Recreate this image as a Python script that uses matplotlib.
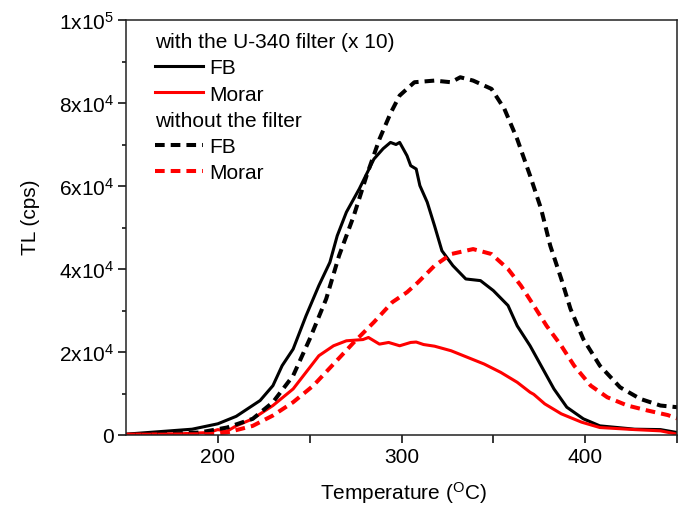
import matplotlib
matplotlib.use("Agg")
import matplotlib.pyplot as plt
from matplotlib.lines import Line2D

plt.rcParams['font.family'] = ['Liberation Sans', 'DejaVu Sans']
plt.rcParams['mathtext.fontset'] = 'custom'
plt.rcParams['mathtext.rm'] = 'Liberation Sans'
plt.rcParams['mathtext.it'] = 'Liberation Sans'
plt.rcParams['mathtext.default'] = 'regular'

# ---- data (T in degC, TL in cps) ----
fb_filter_T = [150, 186, 200, 210, 223, 230, 235, 241, 248, 255, 261, 265, 270, 277, 285, 290, 294, 297, 299,
               303, 305, 308, 310, 314, 318, 322, 328, 335, 343, 350, 358, 363, 370, 376, 383, 390, 399,
               408, 427, 441, 450]
fb_filter_V = [200, 1400, 2700, 4500, 8300, 11900, 16700, 20700, 28700, 36000, 41600, 48000, 53700, 59300,
               66500, 69000, 70500, 70000, 70500, 67300, 64900, 64100, 60100, 56100, 50400, 44400, 40800,
               37600, 37200, 34800, 31200, 26300, 21500, 16700, 11100, 6700, 3900, 2200, 1400, 1300, 600]

morar_filter_T = [150, 180, 195, 200, 205, 210, 219, 230, 241, 248, 255, 263, 270, 279, 282, 288, 293, 299,
                  305, 308, 312, 318, 327, 336, 345, 354, 363, 370, 372, 378, 387, 398, 408, 427, 441, 450]
morar_filter_V = [200, 300, 600, 1300, 900, 2200, 3900, 7100, 11100, 15100, 19100, 21500, 22700, 23000,
                  23500, 21900, 22300, 21500, 22300, 22400, 21800, 21400, 20300, 18700, 17100, 15100, 12700,
                  10300, 9800, 7500, 5100, 3100, 1800, 1300, 1000, 200]

fb_nofilter_T = [150, 190, 205, 219, 230, 241, 250, 259, 266, 274, 281, 288, 294, 299, 307, 318, 327, 332,
                 339, 349, 356, 363, 370, 376, 381, 387, 392, 399, 408, 419, 430, 441, 450]
fb_nofilter_V = [0, 600, 1800, 3900, 7900, 14300, 23100, 32800, 43200, 52800, 62500, 71300, 77500, 81800,
                 85000, 85400, 85000, 86200, 85400, 83400, 78600, 71300, 62500, 54500, 45600, 37600, 30400,
                 23100, 16700, 11500, 8700, 7100, 6700]

morar_nofilter_T = [150, 195, 205, 219, 230, 241, 252, 263, 274, 285, 295, 303, 309, 318, 327, 339, 349, 358,
                    365, 372, 379, 387, 394, 403, 412, 423, 434, 445, 450]
morar_nofilter_V = [0, 200, 600, 2200, 4700, 7900, 11900, 17100, 22300, 27200, 32000, 34400, 36800, 40800,
                    43600, 44800, 43600, 40000, 36000, 31200, 26300, 21500, 16700, 11900, 9100, 7100, 5900,
                    4800, 4000]

x_ticks = [200, 300, 400]
y_ticks = [0, 20000, 40000, 60000, 80000, 100000]
y_ticklabels = ['0', '2x10$^4$', '4x10$^4$', '6x10$^4$', '8x10$^4$', '1x10$^5$']

fs = 15
fig = plt.figure(figsize=(6.84, 5.10), dpi=100)
ax = fig.add_axes([126/684, (510-436)/510, (677-126)/684, (436-21)/510])

dash = (2.4, 1.5)
l1, = ax.plot(fb_filter_T, fb_filter_V, color='black', lw=2.2)
l2, = ax.plot(morar_filter_T, morar_filter_V, color='#ff0000', lw=2.2)
l3, = ax.plot(fb_nofilter_T, fb_nofilter_V, color='black', lw=2.9, dashes=dash, dash_capstyle='butt')
l4, = ax.plot(morar_nofilter_T, morar_nofilter_V, color='#ff0000', lw=2.9, dashes=dash, dash_capstyle='butt')

ax.set_xlim(150, 450)
ax.set_ylim(0, 100000)
ax.set_xticks(x_ticks)
ax.set_xticks([250, 350, 450], minor=True)
ax.set_yticks(y_ticks)
ax.set_yticklabels(y_ticklabels)
ax.set_yticks([10000, 30000, 50000, 70000, 90000], minor=True)
ax.tick_params(which='both', direction='out', labelsize=fs, width=1.1, top=False, right=False, pad=3)
ax.tick_params(which='major', length=5.5)
ax.tick_params(which='minor', length=3)
ax.tick_params(axis='x', which='minor', length=5.5)
for s in ax.spines.values():
    s.set_linewidth(1.1)
    s.set_color('#222222')

ax.set_xlabel(r'Temperature ($^{\mathrm{O}}$C)', fontsize=fs)
ax.xaxis.set_label_coords((404-126)/551, (436-493)/415)
ax.xaxis.label.set_va('center')
ax.set_ylabel('TL (cps)', fontsize=fs)
ax.yaxis.set_label_coords((31-126)/551, (436-217)/415)
ax.yaxis.label.set_va('center')

blank = Line2D([], [], alpha=0)
handles = [blank, l1, l2, blank, l3, l4]
labels = ['with the U-340 filter (x 10)', 'FB', 'Morar', 'without the filter', 'FB', 'Morar']
leg = ax.legend(handles, labels, loc='upper left', bbox_to_anchor=((155-126)/551, (436-33)/415), frameon=False,
                fontsize=fs, handlelength=2.3, handletextpad=0.3, labelspacing=0.35, borderaxespad=0,
                borderpad=0)
rows = leg._legend_handle_box.get_children()[0].get_children()
for i in (0, 3):
    row = rows[i]
    row.get_children()[0].width = 0
    row.sep = 0

fig.savefig('out.png', dpi=100)
